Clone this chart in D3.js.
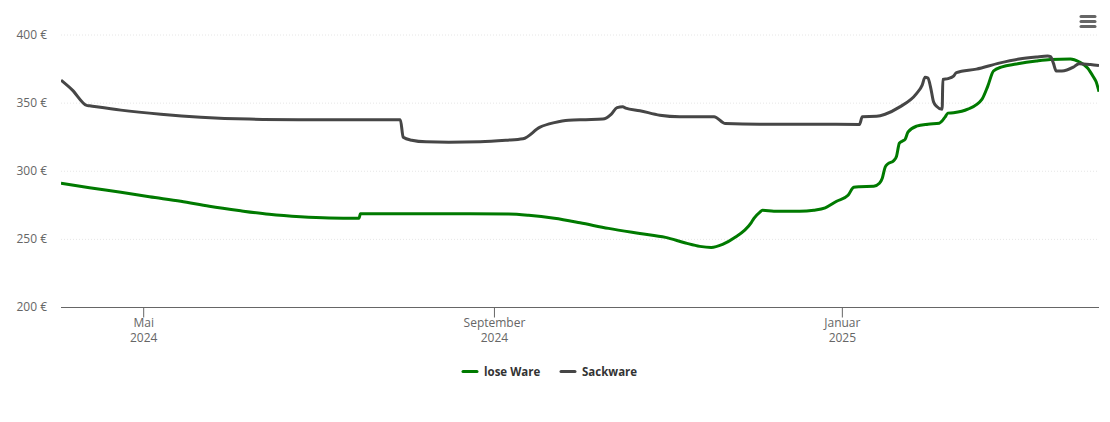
<!DOCTYPE html>
<html>
<head>
<meta charset="utf-8">
<script src="https://cdn.jsdelivr.net/npm/d3@7"></script>
<style>
  body { margin: 0; background: #fff; }
  svg { display: block; font-family: "Open Sans", sans-serif; }
  .tick text { fill: #666; font-size: 12px; font-family: "Open Sans", sans-serif; }
  .grid line { stroke: #e6e6e6; stroke-dasharray: 1 2; }
  .legend text { fill: #333; font-size: 11.5px; font-weight: 700; }
</style>
</head>
<body>
<div id="chart-area"></div>
<script>
const seriesNames = ["lose Ware", "Sackware"];
const seriesColors = ["#007a00", "#464646"];

const yTicks = [200, 250, 300, 350, 400];
const xTickDates = ["2024-05-01", "2024-09-01", "2025-01-01"];
const xTickMonths = ["Mai", "September", "Januar"];
const xTickYears = ["2024", "2024", "2025"];

const looseDates = [
  "2024-04-02", "2024-04-12", "2024-04-23", "2024-05-03", "2024-05-14", "2024-05-24", "2024-06-04",
  "2024-06-14", "2024-06-25", "2024-07-05", "2024-07-15", "2024-07-15T12:00:00Z", "2024-07-16",
  "2024-07-30", "2024-08-16", "2024-09-06", "2024-09-13", "2024-09-22", "2024-10-01", "2024-10-11",
  "2024-10-22", "2024-10-31", "2024-11-07", "2024-11-12", "2024-11-16", "2024-11-20", "2024-11-24",
  "2024-11-30", "2024-12-01", "2024-12-03", "2024-12-04", "2024-12-08", "2024-12-17", "2024-12-22", "2024-12-26",
  "2024-12-30", "2025-01-03", "2025-01-05", "2025-01-07", "2025-01-12", "2025-01-14", "2025-01-15",
  "2025-01-16", "2025-01-17", "2025-01-19", "2025-01-20", "2025-01-21", "2025-01-22", "2025-01-23",
  "2025-01-24", "2025-01-27", "2025-01-31", "2025-02-04", "2025-02-06", "2025-02-07", "2025-02-09",
  "2025-02-14", "2025-02-19", "2025-02-21", "2025-02-23", "2025-02-26", "2025-03-03", "2025-03-10",
  "2025-03-15", "2025-03-22", "2025-03-25", "2025-03-28", "2025-03-30", "2025-03-31", "2025-04-01"
];
const looseValues = [
  290.8, 287.5, 284.2, 280.9, 277.6, 273.9, 270.6,
  268, 266.2, 265.3, 265.1, 265.1, 268.4,
  268.4, 268.4, 268.2, 267.3, 265.1, 261.8, 257.7,
  254, 251.1, 247, 244.5, 243.7, 245.9, 250.6,
  261.8, 265.1, 269.5, 271, 270.3, 270.2, 271, 272.8,
  277.6, 282, 287.9, 288.3, 288.6, 290.8, 294.5,
  302.6, 305.1, 307.4, 310.7, 320.2, 321.7, 323,
  328.3, 332.7, 334.2, 334.9, 339.3, 342.3, 342.6,
  345.2, 352.6, 362.1, 373.2, 376.3, 378.3, 380.5,
  381.6, 382, 380, 375.4, 369, 365.3, 358
];

const sackDates = [
  "2024-04-02", "2024-04-06", "2024-04-11", "2024-04-12", "2024-04-23", "2024-05-07", "2024-05-21", "2024-06-07",
  "2024-06-25", "2024-07-12", "2024-07-30", "2024-07-31", "2024-08-03", "2024-08-08", "2024-08-16",
  "2024-08-27", "2024-09-05", "2024-09-11", "2024-09-17", "2024-09-22", "2024-09-27", "2024-10-03",
  "2024-10-09", "2024-10-12", "2024-10-14", "2024-10-16", "2024-10-17", "2024-10-22", "2024-10-29",
  "2024-11-05", "2024-11-12", "2024-11-17", "2024-11-21", "2024-12-03", "2024-12-17", "2025-01-07",
  "2025-01-08", "2025-01-13", "2025-01-16", "2025-01-21", "2025-01-27", "2025-01-29", "2025-01-30",
  "2025-01-31", "2025-02-01", "2025-02-02", "2025-02-03", "2025-02-05", "2025-02-05T06:00:00Z", "2025-02-07",
  "2025-02-09", "2025-02-10", "2025-02-17", "2025-02-25", "2025-03-04", "2025-03-10", "2025-03-14",
  "2025-03-15", "2025-03-16", "2025-03-17", "2025-03-19", "2025-03-23", "2025-03-25", "2025-03-29", "2025-04-01"
];
const sackValues = [
  366.5, 359.2, 348, 347.7, 344.5, 341.5, 339.3, 337.9,
  337.5, 337.4, 337.4, 324.6, 322.4, 321.2, 321,
  321.3, 322.4, 323.5, 332, 335.3, 337.1, 337.5,
  337.9, 341.6, 346.3, 347, 346, 344.1, 340.8,
  339.7, 339.7, 339.7, 334.6, 334.2, 334.2, 334,
  339.7, 340, 341.5, 346.7, 356.6, 362.9, 368.7,
  368, 360.7, 350.4, 347.4, 345.2, 367, 367.6,
  369.5, 372, 374.6, 379, 382, 383.5, 384.2,
  383.7, 379, 373.2, 373.2, 376, 378.6, 378, 377.2
];

const chartAreaWidth = 1110;
const chartAreaHeight = 422;
const margin = {top: 34.5, right: 11, bottom: 115, left: 61};
const width = chartAreaWidth - margin.left - margin.right;
const height = chartAreaHeight - margin.top - margin.bottom;

const svg = d3.select("#chart-area").append("svg")
    .attr("width", chartAreaWidth)
    .attr("height", chartAreaHeight);

const g = svg.append("g")
    .attr("transform", `translate(${margin.left}, ${margin.top})`);

const x = d3.scaleUtc()
    .domain([new Date("2024-04-02"), new Date("2025-04-01")])
    .range([0, width]);

const y = d3.scaleLinear()
    .domain([200, 400])
    .range([height, 0]);

svg.append("clipPath")
    .attr("id", "plot-clip")
    .append("rect")
    .attr("x", margin.left)
    .attr("y", 0)
    .attr("width", width)
    .attr("height", chartAreaHeight);

// Gridlines
g.append("g")
    .attr("class", "grid")
    .call(d3.axisLeft(y).tickValues(yTicks.slice(1)).tickSize(-width).tickFormat(""))
    .call(s => s.select(".domain").remove());

// Y axis
g.append("g")
    .call(d3.axisLeft(y).tickValues(yTicks).tickSize(0).tickPadding(14).tickFormat(d => d + " €"))
    .call(s => s.select(".domain").remove());

// X axis, month on the first line and year on the second
const xAxis = g.append("g")
    .attr("transform", `translate(0, ${height + 0.5})`)
    .call(d3.axisBottom(x)
        .offset(0)
        .tickValues(xTickDates.map(d => new Date(d)))
        .tickSizeInner(10)
        .tickSizeOuter(0)
        .tickPadding(1)
        .tickFormat((d, i) => xTickMonths[i]));

xAxis.select(".domain").attr("stroke", "#666").attr("stroke-width", 1);
xAxis.selectAll(".tick line").attr("stroke", "#666");
xAxis.selectAll(".tick").append("text")
    .attr("y", 26)
    .attr("dy", "0.71em")
    .attr("text-anchor", "middle")
    .text((d, i) => xTickYears[i]);

// Lines
const line = d3.line()
    .x(d => x(d.date) + margin.left)
    .y(d => y(d.value) + margin.top)
    .curve(d3.curveMonotoneX);

const seriesData = [
    looseDates.map((d, i) => ({date: new Date(d), value: looseValues[i]})),
    sackDates.map((d, i) => ({date: new Date(d), value: sackValues[i]}))
];

svg.append("g")
    .attr("clip-path", "url(#plot-clip)")
    .selectAll("path")
    .data(seriesData)
    .join("path")
    .attr("fill", "none")
    .attr("stroke", (d, i) => seriesColors[i])
    .attr("stroke-width", 3)
    .attr("stroke-linejoin", "round")
    .attr("d", line);

// Legend
const legendX = [463, 561];
const legend = svg.append("g")
    .attr("class", "legend")
    .selectAll("g")
    .data(seriesNames)
    .join("g")
    .attr("transform", (d, i) => `translate(${legendX[i]}, 371.5)`);

legend.append("line")
    .attr("x2", 14)
    .attr("stroke", (d, i) => seriesColors[i])
    .attr("stroke-width", 3)
    .attr("stroke-linecap", "round");

legend.append("text")
    .attr("x", 21)
    .attr("dy", "0.35em")
    .text(d => d);

// Menu button
svg.append("g")
    .selectAll("rect")
    .data([15, 20, 25])
    .join("rect")
    .attr("x", 1079.5)
    .attr("y", d => d)
    .attr("width", 17)
    .attr("height", 3)
    .attr("rx", 1.5)
    .attr("fill", "#666");
</script>
</body>
</html>
